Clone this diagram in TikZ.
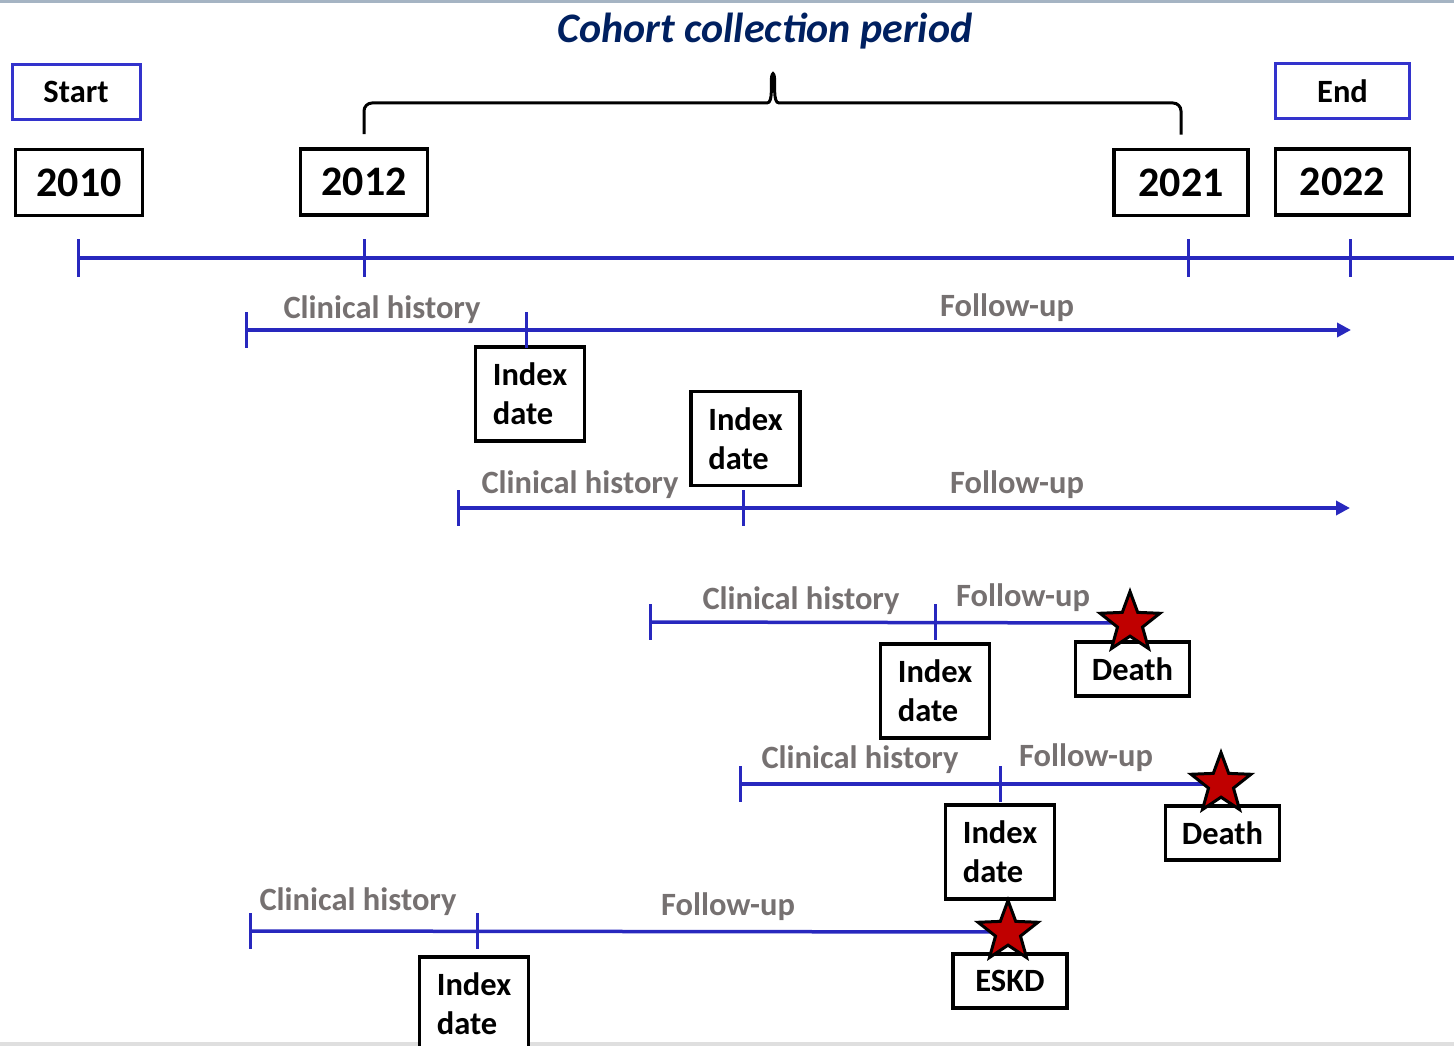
\documentclass[tikz,border=0pt]{standalone}
\usepackage{fontspec}
\setmainfont{Carlito}
\usetikzlibrary{arrows.meta}
\usetikzlibrary{calc}
\usetikzlibrary{positioning}
\usetikzlibrary{shapes.geometric}

\definecolor{tlblue}{RGB}{40,40,190}
\definecolor{boxblue}{RGB}{51,51,204}
\definecolor{titlenavy}{RGB}{0,32,96}
\definecolor{labelgray}{RGB}{118,113,113}
\definecolor{starred}{RGB}{192,0,0}
\definecolor{framegray}{RGB}{165,180,195}

\tikzset {
  % blue time lines
  tline/.style = {
    draw = tlblue,
    line width = 3.5pt
  },
  % time line that runs on past the end of the study
  tarrow/.style = {
    tline,
    -{Triangle[length=14pt,width=14pt]}
  },
  tickline/.style = {
    draw = tlblue,
    line width = 3pt
  },
  brace line/.style = {
    draw = black,
    line width = 3pt,
    rounded corners = 8pt
  }
}
\tikzset {
  box node/.style = {
    draw = black,
    line width = 3.5pt,
    fill = white,
    inner sep = 0,
    font = \bfseries\fontsize{32.5}{39}\selectfont
  },
  % year on the main axis
  yearbox/.style = {
    box node,
    minimum width = 127pt,
    minimum height = 66pt,
    font = \bfseries\fontsize{42}{50}\selectfont
  },
  % start / end of the study
  limitbox/.style = {
    box node,
    draw = boxblue,
    line width = 3pt,
    minimum width = 128pt,
    minimum height = 55pt
  },
  idxbox/.style = {
    box node,
    align = left,
    minimum width = 109pt,
    minimum height = 94pt
  },
  eventbox/.style = {
    box node,
    minimum width = 114pt,
    minimum height = 54pt
  },
  % grey text over a time line
  phase/.style = {
    text = labelgray,
    font = \bfseries\fontsize{32.5}{39}\selectfont,
    inner sep = 0,
    anchor = base
  },
  evstar/.style = {
    star,
    star points = 5,
    star point ratio = 2.4,
    draw = black,
    line width = 3pt,
    fill = starred,
    minimum size = 63pt,
    inner sep = 0
  }
}

\begin{document}
\begin{tikzpicture}[x=1pt, y=-1pt]
    \useasboundingbox (0,0) rectangle (1454,1046);
    \clip (0,0) rectangle (1454,1046);
    \fill[framegray] (0,0) rectangle (1454,3);
    \fill[gray!25] (0,1042) rectangle (1454,1046);

    \node[font = \bfseries\itshape\fontsize{42}{50}\selectfont, text = titlenavy, anchor = base] (title) at (765,43) {Cohort collection period};

    % main axis
    \coordinate (t2010) at (78,258);
    \coordinate (t2012) at (364,258);
    \coordinate (t2021) at (1188,258);
    \coordinate (t2022) at (1350,258);
    \coordinate (tend) at (1454,258);
    \draw[tline] (t2010) -- (tend);
    \foreach \t in {t2010,t2012,t2021,t2022}
      \draw[tickline] ($(\t)+(0,-19)$) -- ($(\t)+(0,19)$);

    \node[yearbox] (y2010) at (79,182.5) {2010};
    \node[yearbox] (y2012) at (364,182) {2012};
    \node[yearbox, minimum width = 134pt] (y2021) at (1181,182.5) {2021};
    \node[yearbox, minimum width = 134pt] (y2022) at (1342.5,182) {2022};
    \node[limitbox] (start) [above=27pt of y2010, xshift=-3pt] {Start};
    \node[limitbox, minimum width = 134pt] (end) [above=27pt of y2022] {End};

    \coordinate (brace-l) at ($(y2012.north)+(0,-13)$);
    \coordinate (brace-r) at ($(y2021.north)+(0,-13)$);
    \coordinate (brace-tip) at (773,69);
    \draw[brace line] (brace-l) |- (759,103) to[out=0, in=-100] (brace-tip)
      to[out=-80, in=180] (787,103) -| (brace-r);

    % patient 1
    \coordinate (hist1) at (246,330);
    \coordinate (index1) at (526,330);
    \coordinate (fup1) at (1351,330);
    \draw[tarrow] (hist1) -- (fup1);
    \node[idxbox] (idx1) [below=15pt of index1, xshift=4pt] {Index\\date};
    \node[phase] (clin1) at (382,318) {Clinical history};
    \node[phase] (fol1) at (1007,316) {Follow-up};

    % patient 2
    \coordinate (hist2) at (458,508);
    \coordinate (index2) at (743,508);
    \coordinate (fup2) at (1350,508);
    \draw[tarrow] (hist2) -- (fup2);
    \node[idxbox] (idx2) [above=21pt of index2, xshift=2.5pt] {Index\\date};
    \node[phase] (clin2) at (580,493) {Clinical history};
    \node[phase] (fol2) at (1017,493) {Follow-up};

    % patient 3
    \coordinate (hist3) at (650,622);
    \coordinate (index3) at (935,622);
    \coordinate (ev3) at (1130,623);
    \draw[tline] (hist3) -- (ev3);
    \node[idxbox] (idx3) [below=20pt of index3] {Index\\date};
    \node[eventbox] (death3) [below=17pt of ev3, xshift=2.5pt] {Death};
    \node[phase] (clin3) at (801,609) {Clinical history};
    \node[phase] (fol3) at (1023,606) {Follow-up};

    % patient 4
    \coordinate (hist4) at (740,784);
    \coordinate (index4) at (1000,784);
    \coordinate (ev4) at (1221,784);
    \draw[tline] (hist4) -- (ev4);
    \node[idxbox] (idx4) [below=19pt of index4] {Index\\date};
    \node[eventbox] (death4) [below=20pt of ev4, xshift=1.5pt] {Death};
    \node[phase] (clin4) at (860,768) {Clinical history};
    \node[phase] (fol4) at (1086,766) {Follow-up};

    % patient 5
    \coordinate (hist5) at (250,931);
    \coordinate (index5) at (477,931);
    \coordinate (ev5) at (1008,932);
    \draw[tline] (hist5) -- (ev5);
    \node[idxbox] (idx5) [below=24pt of index5, xshift=-3pt] {Index\\date};
    \node[eventbox] (eskd5) [below=20pt of ev5, xshift=2pt] {ESKD};
    \node[phase] (clin5) at (358,910) {Clinical history};
    \node[phase] (fol5) at (728,915) {Follow-up};

    \foreach \t in {hist1,index1,hist2,index2,hist3,index3,hist4,index4,hist5,index5}
      \draw[tickline] ($(\t)+(0,-18)$) -- ($(\t)+(0,18)$);

    \node[evstar] (star3) at (ev3) {};
    \node[evstar] (star4) at (ev4) {};
    \node[evstar] (star5) at (ev5) {};
\end{tikzpicture}
\end{document}
